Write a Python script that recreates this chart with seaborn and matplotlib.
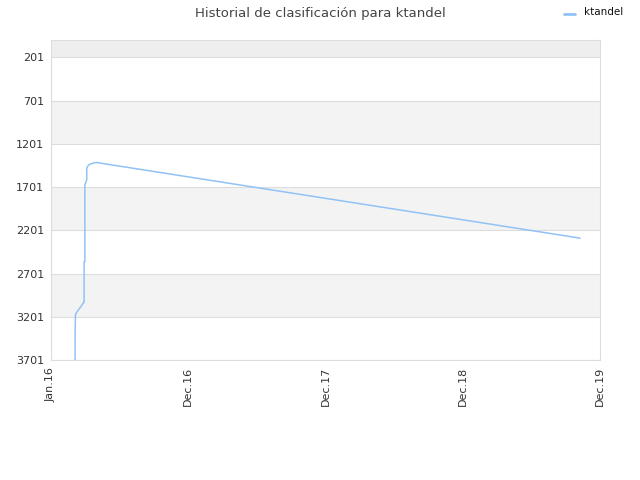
import matplotlib
matplotlib.use("Agg")
import matplotlib.pyplot as plt
import seaborn as sns
import pandas as pd

# Data (days since Jan 2016, rank)
days = [64, 64, 65, 66.5, 70, 75, 80, 84, 87, 88, 88, 90, 90, 93, 95, 95, 97.6, 100, 104, 112, 120, 1407]
ranks = [3701, 3450, 3181, 3161, 3140, 3110, 3080, 3055, 3034, 3034, 2565, 2565, 1679, 1640, 1620, 1487, 1460, 1447, 1437, 1425, 1417, 2292]
tick_pos = [0, 365, 730, 1095, 1460]
tick_labels = ["Jan.16", "Dec.16", "Dec.17", "Dec.18", "Dec.19"]
y_ticks = [201, 701, 1201, 1701, 2201, 2701, 3201, 3701]
series_name = "ktandel"
title = "Historial de clasificación para ktandel"

df = pd.DataFrame({"day": days, "rank": ranks, "player": series_name})

sns.set_theme(style="white")
plt.rcParams["font.family"] = ["DejaVu Sans"]

fig = plt.figure(figsize=(6.4, 4.8), dpi=100)
ax = fig.add_axes([51/640, 1 - 360/480, 549/640, 320/480])

# alternating bands
bands = [1] + y_ticks
for i in range(len(bands) - 1):
    if i == 0:
        c = "#eeeeee"
    elif i % 2 == 0:
        c = "#f3f3f3"
    else:
        c = "#ffffff"
    ax.axhspan(bands[i], bands[i + 1], color=c, zorder=0, lw=0)
for y in y_ticks:
    ax.axhline(y, color="#dddddd", lw=0.8, zorder=1)

sns.lineplot(data=df, x="day", y="rank", hue="player", palette=["#90c3f4"],
             sort=False, estimator=None, lw=1.1, ax=ax, legend=False, zorder=3)

ax.set_xlim(0, 1460)
ax.set_ylim(3701, 1)
ax.set_yticks(y_ticks)
ax.set_yticklabels([str(v) for v in y_ticks], fontsize=8, color="#333333")
ax.set_xticks(tick_pos)
ax.set_xticklabels(tick_labels, rotation=90, fontsize=8, color="#333333")
ax.tick_params(axis="both", length=0, pad=5)
ax.set_xlabel("")
ax.set_ylabel("")
for s in ax.spines.values():
    s.set_color("#dddddd")
    s.set_linewidth(0.8)

fig.text(320/640, 1 - 13/480, title, ha="center", va="center", fontsize=9.5, color="#444444")
# legend
fig.lines.append(plt.Line2D([564/640, 575/640], [1 - 14/480, 1 - 14/480],
                            color="#90c3f4", lw=2, transform=fig.transFigure))
fig.text(584/640, 1 - 12/480, series_name, ha="left", va="center", fontsize=7.5, color="#111111")

fig.savefig("out.png", dpi=100)
